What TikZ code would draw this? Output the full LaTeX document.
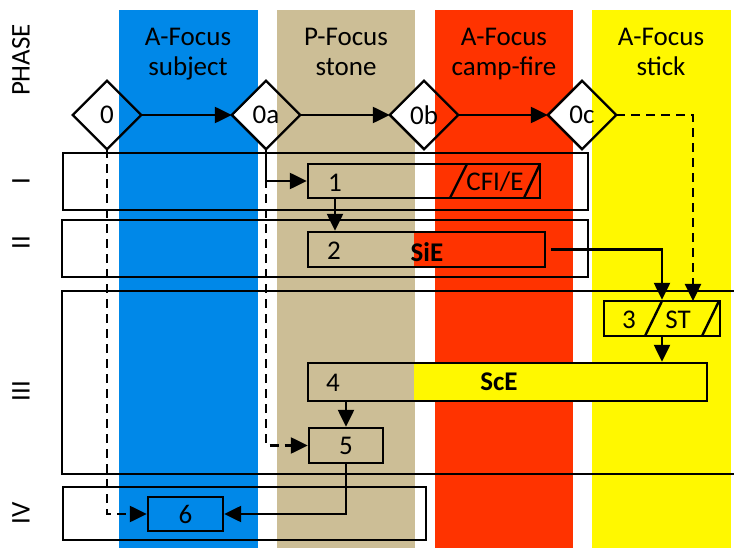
\documentclass[tikz,border=0pt]{standalone}
\usepackage{fontspec}
\setmainfont{Carlito}
\usetikzlibrary{arrows.meta,shapes.geometric}
\definecolor{cBlue}{RGB}{0,136,232}
\definecolor{cTan}{RGB}{204,190,150}
\definecolor{cRed}{RGB}{255,51,0}
\definecolor{cYellow}{RGB}{255,248,0}
\begin{document}
\begin{tikzpicture}[x=1pt,y=-1pt,line width=2.4pt,
    font=\fontsize{27}{30}\selectfont,
    >={Triangle[length=17pt,width=16pt]},
    gate/.style={diamond,fill=white,minimum width=66pt,minimum height=66pt,inner sep=0pt},
    task/.style={draw,rectangle,inner sep=0pt},
    head/.style={align=center,anchor=north,inner sep=0pt},
    lbl/.style={inner sep=0pt},
    dashflow/.style={->,dash pattern=on 9pt off 6pt}]
    \useasboundingbox (0,0) rectangle (734,548);
    \clip (0,0) rectangle (734,548);
    % lanes and gates
    \node[gate] (d0) at (107,115) {};
    \fill[cBlue] (119,10) rectangle (258,548);
    \node[gate] (d0a) at (266,115) {};
    \fill[cTan] (277,10) rectangle (415,548);
    \node[gate] (d0b) at (424,115) {};
    \fill[cRed] (435,10) rectangle (573,548);
    \node[gate] (d0c) at (582,115) {};
    \fill[cYellow] (592,10) rectangle (731,548);
    \node[head] at (188,27) {A-Focus\\subject};
    \node[head] at (346,27) {P-Focus\\stone};
    \node[head] at (504,27) {A-Focus\\camp-fire};
    \node[head] at (661,27) {A-Focus\\stick};
    % phases
    \node[rotate=90] at (21,60) {PHASE};
    \node[rotate=90] at (21,181) {I};
    \node[rotate=90] at (21,243) {II};
    \node[rotate=90] at (21,391) {III};
    \node[rotate=90] at (21,513) {IV};
    \draw (63,153) rectangle (588,210);
    \draw (62,220) rectangle (588,277);
    \draw (62,291) rectangle (760,474);
    \draw (63,487) rectangle (426,540);
    % tasks
    \fill[cRed] (414,232) rectangle (545,267);
    \fill[cYellow] (414,363) rectangle (707,401);
    \node[task,minimum width=232pt,minimum height=34pt] (t1) at (424,181) {};
    \draw (467,164) -- (450,198);
    \draw (540,164) -- (524,198);
    \node[task,minimum width=237pt,minimum height=35pt] (t2) at (426.5,249.5) {};
    \node[task,minimum width=116pt,minimum height=35pt] (t3) at (662,318.5) {};
    \draw (662,301) -- (645,336);
    \draw (719,301) -- (702,336);
    \node[task,minimum width=399pt,minimum height=38pt] (t4) at (507.5,382) {};
    \node[task,minimum width=74pt,minimum height=35pt] (t5) at (346,445.5) {};
    \node[task,minimum width=75pt,minimum height=34pt] (t6) at (185.5,514) {};
    \node[lbl] (l1) at (335,183) {1};
    \node[lbl] at (495,182) {CFI/E};
    \node[lbl] at (334,251) {2};
    \node[lbl] at (427,252) {\bfseries SiE};
    \node[lbl] at (629,320) {3};
    \node[lbl] at (678,320) {ST};
    \node[lbl] at (333,383) {4};
    \node[lbl] at (499,382) {\bfseries ScE};
    \node[lbl] at (t5) {5};
    \node[lbl] at (t6) {6};
    \coordinate (stTop) at (693,301);
    % gate outlines
    \foreach \g/\t in {d0/0,d0a/0a,d0b/0b,d0c/0c}{
        \draw (\g.north) -- (\g.east) -- (\g.south) -- (\g.west) -- cycle;
        \node[lbl] at (\g) {\t};
    }
    % flows
    \draw[->] (d0.east) -- (d0a.west);
    \draw[->] (d0a.east) -- (d0b.west);
    \draw[->] (d0b.east) -- (d0c.west);
    \draw[dashflow] (d0c.east) -| (stTop);
    \draw[->] (d0a.south) |- (t1.west);
    \draw[dashflow] (d0a.south) |- (t5.west);
    \draw[dashflow] (d0.south) |- (t6.west);
    \draw[->] (t1.south -| l1) -- (t2.north -| l1);
    \draw[->] ([xshift=5pt]t2.east) -| (t3.north);
    \draw[->] (t3.south) -- (t3.south |- t4.north);
    \draw[->] (t5.north |- t4.south) -- (t5.north);
    \draw[->] (t5.south) |- (t6.east);
\end{tikzpicture}
\end{document}
